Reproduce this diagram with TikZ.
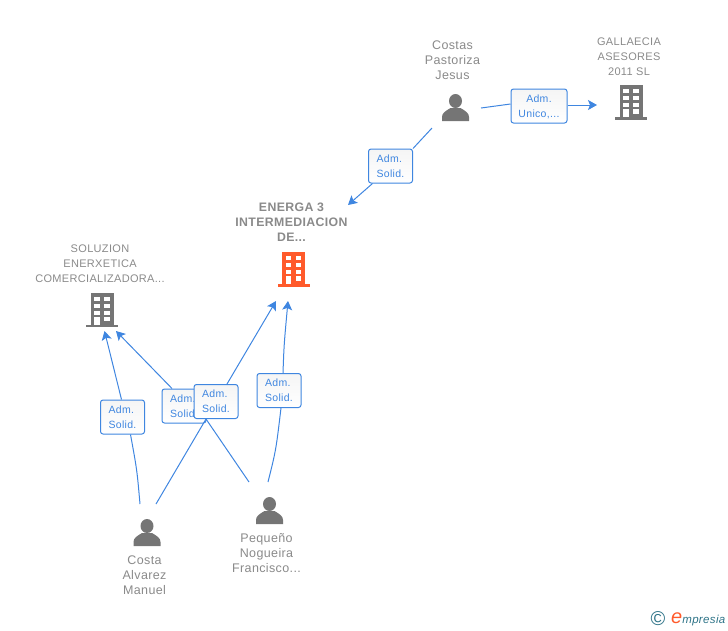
\documentclass[tikz,border=0pt]{standalone}
\usepackage{fontspec}
\setmainfont[LetterSpace=3]{Liberation Sans}
\usetikzlibrary{arrows.meta}
\definecolor{linkblue}{HTML}{3F86E0}
\definecolor{labelgray}{HTML}{8A8A8A}
\definecolor{icongray}{HTML}{757575}
\definecolor{iconorange}{HTML}{FF5A2B}
\definecolor{logoteal}{HTML}{2F7488}
\tikzset{
  entity/.style={text=labelgray, align=center, font=\fontsize{11}{15}\selectfont, inner sep=0pt},
  personname/.style={entity, font=\fontsize{12.5}{15}\selectfont},
  boldentity/.style={entity, font=\fontsize{12.3}{15}\selectfont\bfseries},
  linkbox/.style={draw=linkblue, line width=1pt, rounded corners=2.5pt, top color=black!4, bottom color=white,
    text=linkblue, align=center, font=\fontsize{10.5}{15}\selectfont, inner sep=0pt, minimum height=34pt, text depth=0pt},
  solidbox/.style={linkbox, align=left, minimum width=44pt},
  link/.style={draw=linkblue, line width=1pt},
  arrowlink/.style={link, -{Stealth[length=9pt,width=10pt,inset=2pt]}},
  pics/person/.style={code={
    \fill[icongray] (0,7) ellipse (6.5 and 7);
    \fill[icongray] (-13.5,27) -- (-13.5,23) .. controls (-13.5,19) and (-10,17) .. (-5,14)
      -- (5,14) .. controls (10,17) and (13.5,19) .. (13.5,23) -- (13.5,27) -- cycle;
  }},
  pics/building/.style={code={
    \fill[#1] (-11.5,0) rectangle (11.5,33);
    \fill[#1] (-16,32) rectangle (16,34.5);
    \foreach \row in {4,11,18} {
      \fill[white] (-8,\row) rectangle (-2.5,{\row+4.3});
      \fill[white] (2,\row) rectangle (7.5,{\row+4.3});
    }
    \fill[white] (-8,24) rectangle (-2.5,32);
    \fill[white] (2,24) rectangle (7.5,28.5);
  }}
}
\begin{document}
\begin{tikzpicture}[x=1pt, y=-1pt]
  \useasboundingbox (0,0) rectangle (728,630);
  % The names
  \node[personname] (costas) at (452.5,60) {Costas\\Pastoriza\\Jesus};
  \node[entity] (gallaecia) at (629,57) {GALLAECIA\\ASESORES\\2011 SL};
  \node[boldentity] (energa) at (291.5,222) {ENERGA 3\\INTERMEDIACION\\DE...};
  \node[entity] (soluzion) at (100,264) {SOLUZION\\ENERXETICA\\COMERCIALIZADORA...};
  \node[personname] (costa) at (144.5,575) {Costa\\Alvarez\\Manuel};
  \node[personname] (pequeno) at (266.5,553) {Pequeño\\Nogueira\\Francisco...};

  % The icons
  \pic at (455.5,94) {person};
  \pic at (147,519) {person};
  \pic at (269.5,497) {person};
  \pic at (631,85) {building=icongray};
  \pic at (293.5,252) {building=iconorange};
  \pic at (102,292.5) {building=icongray};

  % The boxes
  \node[linkbox, minimum width=56pt] (boxUnico) at (539,106) {Adm.\\Unico,...};
  \node[solidbox] (boxCostas) at (390.5,166) {Adm.\\Solid.};
  \node[solidbox] (boxSoluzion) at (122.5,417) {Adm.\\Solid.};
  \node[solidbox] (boxBack) at (184,406) {Adm.\\Solid.};
  \node[solidbox] (boxFront) at (216,401.5) {Adm.\\Solid.};
  \node[solidbox] (boxEnerga) at (279,390.5) {Adm.\\Solid.};

  % The free ends
  \coordinate (costasOut) at (481,108);
  \coordinate (costasDown) at (432,128);
  \coordinate (gallaeciaIn) at (597,105);
  \coordinate (energaTop) at (348,205);
  \coordinate (energaLeft) at (276,301);
  \coordinate (energaRight) at (288,301);
  \coordinate (soluzionLeft) at (104.5,331);
  \coordinate (soluzionRight) at (116,331);
  \coordinate (costaLeft) at (140,504);
  \coordinate (costaRight) at (156,504);
  \coordinate (pequenoLeft) at (249,482);
  \coordinate (pequenoRight) at (268,482);

  % The connectors
  \draw[link] (costasOut) -- ([yshift=2pt]boxUnico.west);
  \draw[arrowlink] ([yshift=1pt]boxUnico.east) -- (gallaeciaIn);
  \draw[link] (costasDown) -- (boxCostas.north east);
  \draw[arrowlink] ([xshift=-18pt]boxCostas.south) -- (energaTop);
  \draw[link] (costaLeft) .. controls (137,470) .. ([xshift=8pt]boxSoluzion.south);
  \draw[arrowlink] ([xshift=-1pt]boxSoluzion.north) -- (soluzionLeft);
  \draw[link] (costaRight) -- ([xshift=-10pt]boxFront.south);
  \draw[arrowlink] ([xshift=11pt]boxFront.north) -- (energaLeft);
  \draw[link] (pequenoLeft) -- ([xshift=-10pt]boxFront.south);
  \draw[arrowlink] ([xshift=-12pt]boxBack.north) -- (soluzionRight);
  \draw[link] (pequenoRight) .. controls (276,450) .. ([xshift=2pt]boxEnerga.south);
  \draw[arrowlink] ([xshift=4pt]boxEnerga.north) .. controls (284,345) .. (energaRight);

  % The logo
  \node[text=logoteal, font=\fontsize{20}{20}\selectfont, inner sep=0pt] (logoMark) at (658,619) {©};
  \node[inner sep=0pt, anchor=base west, text=logoteal, font=\fontsize{11.5}{12}\selectfont\itshape] (logoText) at (671,623)
    {\textcolor{iconorange}{\fontsize{20}{20}\selectfont e}mpresia};
\end{tikzpicture}
\end{document}
